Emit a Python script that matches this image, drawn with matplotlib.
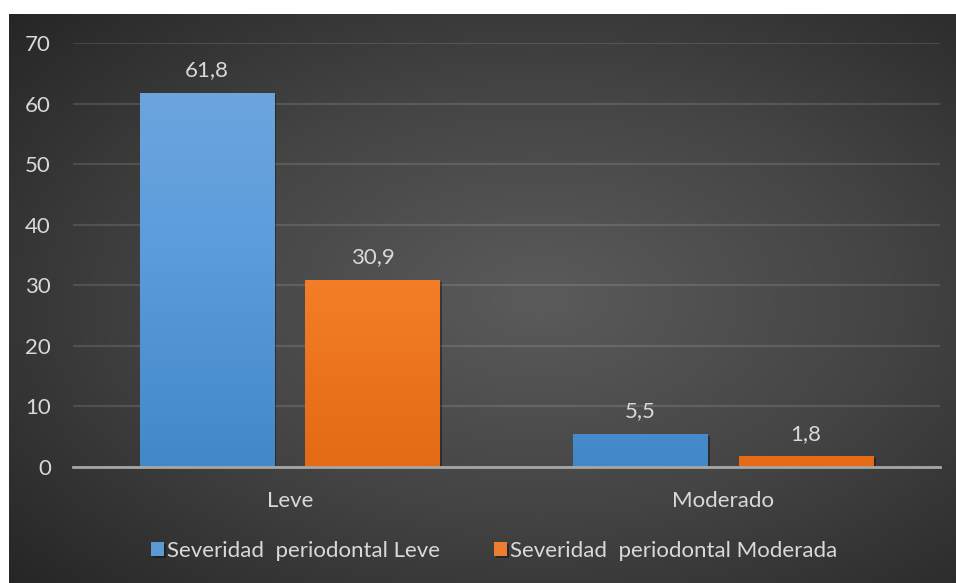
import numpy as np
import matplotlib
matplotlib.use("Agg")
import matplotlib.pyplot as plt
import matplotlib.patheffects as pe
from matplotlib.colors import LinearSegmentedColormap

plt.rcParams['font.family'] = ['Lato', 'DejaVu Sans']

categorias = ["Leve", "Moderado"]
serie_leve = [61.8, 5.5]
serie_moderada = [30.9, 1.8]
etiquetas_leve = ["61,8", "5,5"]
etiquetas_moderada = ["30,9", "1,8"]
nombres_series = ["Severidad  periodontal Leve", "Severidad  periodontal Moderada"]
yticks = [0, 10, 20, 30, 40, 50, 60, 70]

W, H = 956, 583
fig = plt.figure(figsize=(W / 100, H / 100), dpi=100, facecolor="white")

# fondo con degradado radial
bg = fig.add_axes([9 / W, 0, 1 - 9 / W, 1 - 14 / H])
bg.set_axis_off()
yy, xx = np.mgrid[0:1:300j, 0:1:500j]
d = np.sqrt(((xx - 0.56) / 0.75) ** 2 + ((yy - 0.5) / 0.75) ** 2)
d = np.clip(d, 0, 1)
cmap_bg = LinearSegmentedColormap.from_list("bg", ["#5b5b5b", "#444444", "#262626"])
bg.imshow(d, cmap=cmap_bg, aspect="auto", extent=[0, 1, 0, 1], vmin=0, vmax=1)
bg.set_xlim(0, 1)
bg.set_ylim(0, 1)

ax = fig.add_axes([73 / W, (H - 467) / H, (940 - 73) / W, (467 - 43) / H])
ax.set_facecolor("none")
ax.set_xlim(-0.5, 1.5)
ax.set_ylim(0, 70)

x = np.arange(len(categorias))
ancho = 0.311
desp = 0.191

grad_azul = LinearSegmentedColormap.from_list("az", ["#4288c8", "#5a9cdc", "#72a8de"])
grad_naranja = LinearSegmentedColormap.from_list("na", ["#e46a15", "#f6802a", "#f08d59"])

barras1 = ax.bar(x - desp, serie_leve, ancho, color="#5b9bd5", zorder=3)
barras2 = ax.bar(x + desp, serie_moderada, ancho, color="#ed7d31", zorder=3)

sombra = [pe.SimplePatchShadow(offset=(1.5, -1.5), shadow_rgbFace="black", alpha=0.35), pe.Normal()]
for barras, cm in [(barras1, grad_azul), (barras2, grad_naranja)]:
    for b in barras:
        b.set_path_effects(sombra)
        x0 = b.get_x()
        w = b.get_width()
        img = ax.imshow(np.linspace(0, 1, 256).reshape(-1, 1), cmap=cm, aspect="auto",
                        extent=[x0, x0 + w, 0, 70], origin="lower", zorder=4)
        img.set_clip_path(b)

for barras, etiquetas in [(barras1, etiquetas_leve), (barras2, etiquetas_moderada)]:
    for b, t in zip(barras, etiquetas):
        ax.annotate(t, (b.get_x() + b.get_width() / 2, b.get_height()),
                    xytext=(0, 9), textcoords="offset points", ha="center", va="bottom",
                    color="#d9d9d9", fontsize=16)

ax.set_xlim(-0.5, 1.5)
ax.set_ylim(0, 70)
ax.set_yticks(yticks)
ax.set_yticklabels([str(v) for v in yticks])
ax.set_xticks(x)
ax.set_xticklabels(categorias)
ax.tick_params(axis="both", length=0, colors="#d9d9d9", labelsize=16)
ax.tick_params(axis="y", pad=16)
ax.tick_params(axis="x", pad=17)
ax.grid(axis="y", color="white", alpha=0.12, linewidth=1.6, zorder=0)
for lado in ["top", "right", "left"]:
    ax.spines[lado].set_visible(False)
ax.spines["bottom"].set_color("#a6a6a6")
ax.spines["bottom"].set_linewidth(2)
ax.spines["bottom"].set_zorder(5)

leg = fig.legend([barras1, barras2], nombres_series, loc="center", ncol=2,
                 bbox_to_anchor=(494 / W, 1 - 551 / H), frameon=False,
                 fontsize=16, handlelength=0.6, handleheight=0.6, handletextpad=0.15,
                 columnspacing=2.4, labelcolor="#d9d9d9")

fig.savefig("out.png", dpi=100, facecolor="white")
